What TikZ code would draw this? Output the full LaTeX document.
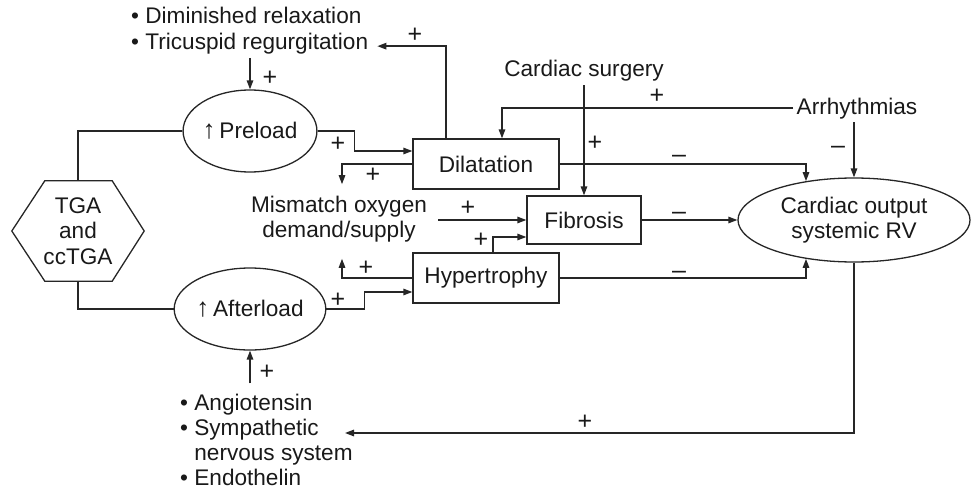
\documentclass[tikz,border=0pt]{standalone}
\usepackage{fontspec}
\setmainfont{Liberation Sans}
\usetikzlibrary{arrows.meta,shapes.geometric,calc}
\begin{document}
\begin{tikzpicture}[x=1pt,y=-1pt,
  every node/.style={font=\fontsize{22.6}{25.5}\selectfont, text=black!90},
  line/.style={draw=black!85, line width=1.4pt},
  arr/.style={line, -{Triangle[length=9pt,width=6.5pt]}},
  boxnode/.style={draw=black!85, line width=1.3pt, minimum height=50pt, inner sep=0pt},
  ell/.style={ellipse, draw=black!85, line width=1.3pt, inner sep=0pt},
  listitem/.style={anchor=base west, inner sep=0pt},
  sign/.style={inner sep=0pt, font=\fontsize{25}{26}\selectfont},
]
\useasboundingbox (0,0) rectangle (974,492);

% main nodes
\node[minimum width=132pt, minimum height=100pt, align=center, inner sep=0pt] (tga) at (78,231) {TGA\\and\\ccTGA};
\draw[line, line width=1.3pt] (tga.west) -- ($(tga.north west)+(33,0)$) -- ($(tga.north east)+(-32,0)$) -- (tga.east)
  -- ($(tga.south east)+(-32,0)$) -- ($(tga.south west)+(33,0)$) -- cycle;

\node[ell, minimum width=132pt, minimum height=82pt] (pre) at (250,131) {{\fontsize{26}{26}\selectfont↑}\,Preload};
\node[ell, minimum width=132pt, minimum height=82pt] (aft) at (250,309) {{\fontsize{26}{26}\selectfont↑}\,Afterload};
\node[boxnode, minimum width=146pt] (dil) at (486,164) {Dilatation};
\node[boxnode, minimum width=114pt, minimum height=48pt] (fib) at (584,220) {Fibrosis};
\node[boxnode, minimum width=146pt] (hyp) at (486,278) {Hypertrophy};
\node[ell, minimum width=232pt, minimum height=84pt, align=center] (co) at (854,220) {Cardiac output\\systemic RV};
\node[align=center] (mis) at (339,219) {Mismatch oxygen\\demand/supply};
\node[anchor=base] (surg) at (584,77) {Cardiac surgery};
\node[anchor=base] (arrh) at (857,114) {Arrhythmias};

% lists
\node[listitem] (dim) at (131,24) {• Diminished relaxation};
\node[listitem] (tri) at (131,50) {• Tricuspid regurgitation};
\node[listitem] (ang) at (180,410) {• Angiotensin};
\node[listitem] (sym) at (180,435) {• Sympathetic};
\node[listitem] (ner) at (180,460) {\phantom{• }nervous system};
\node[listitem] (end) at (180,485) {• Endothelin};
\coordinate (fbtip) at (345,433);

% connectors
\draw[line] (tga.north) |- (pre.west);
\draw[line] (tga.south) |- (aft.west);
\draw[arr, shorten <=3pt] (pre.north |- tri.south) -- (pre.north);
\draw[arr] ([xshift=-40pt]dil.north) |- ($(tri.east)+(9,2)$);
\draw[arr] (pre.east) -- ++(37,0) |- ([yshift=13pt]dil.west);
\draw[arr] (dil.west) -| ($(mis.north)+(3,-8)$);
\draw[arr, shorten <=8pt] (mis.east |- fib.west) -- (fib.west);
\draw[arr] ([xshift=7pt]hyp.north) |- ([yshift=-17pt]fib.west);
\draw[arr] (hyp.west) -| ($(mis.south)+(3,13)$);
\draw[arr] (aft.east) -- ++(38,0) |- ([yshift=-14pt]hyp.west);
\draw[arr, shorten <=10pt] (aft.south |- ang.north) -- (aft.south);
\draw[arr] (co.south) |- (fbtip);
\draw[arr] (surg.south) -- (fib.north);
\draw[arr] (arrh.west) -| ([xshift=16pt]dil.north);
\draw[arr] (arrh.south -| co.north) -- (co.north);
\draw[arr] (dil.east) -| (co.141);
\draw[arr] (fib.east) -- (co.west);
\draw[arr] (hyp.east) -| (co.219);

% signs
\node[sign] (s1) at (415,35) {+};
\node[sign] (s2) at (270,78) {+};
\node[sign] (s3) at (338,144) {+};
\node[sign] (s4) at (373,175) {+};
\node[sign] (s5) at (468,208) {+};
\node[sign] (s6) at (481,240) {+};
\node[sign] (s7) at (366,268) {+};
\node[sign] (s8) at (338,300) {+};
\node[sign] (s9) at (267,372) {+};
\node[sign] (s10) at (585,422) {+};
\node[sign] (s11) at (595,143) {+};
\node[sign] (s12) at (657,96) {+};
\node[sign] (m1) at (838,150) {–};
\node[sign] (m2) at (679,159) {–};
\node[sign] (m3) at (679,216) {–};
\node[sign] (m4) at (679,275) {–};
\end{tikzpicture}
\end{document}
